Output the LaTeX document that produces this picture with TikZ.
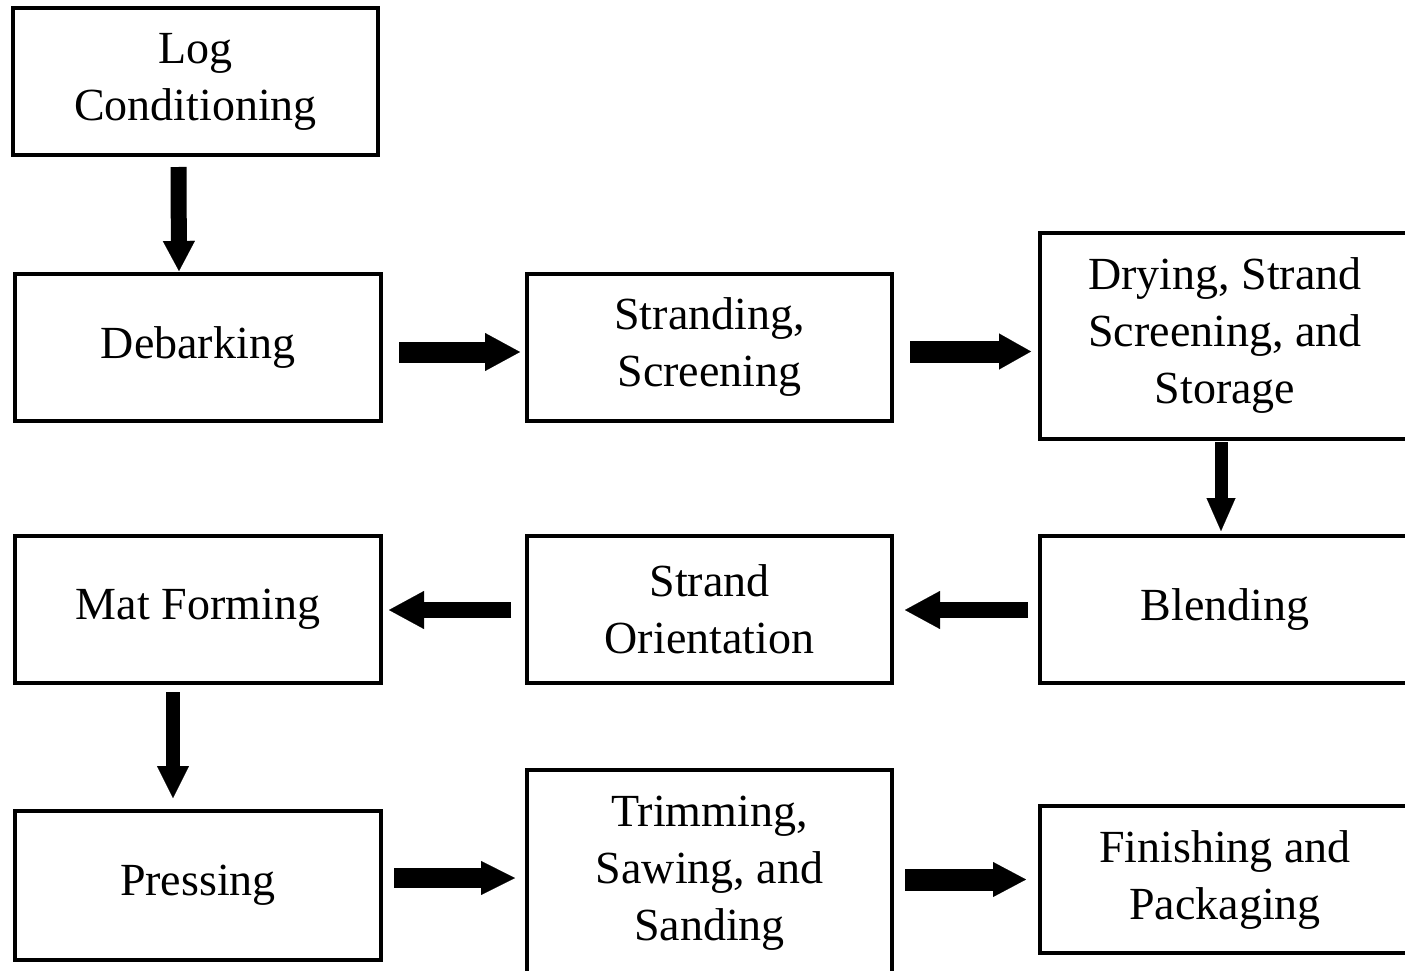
\documentclass[tikz,border=0pt]{standalone}
\usepackage{fontspec}
\setmainfont{Liberation Serif}
\usetikzlibrary{arrows.meta,calc}
\tikzset{
  box/.style={draw=black, line width=4pt, rectangle, align=center, inner sep=0pt,
    font=\fontsize{46}{57}\selectfont},
  flow/.style n args={3}{draw=black, line width=#1,
    -{Triangle[width=#2,length=#3,line width=0.1pt]}}
}
\begin{document}
\begin{tikzpicture}[x=1pt,y=-1pt]
\useasboundingbox (0,0) rectangle (1405,971);
\clip (0,0) rectangle (1405,971);
\fill[white] (0,0) rectangle (1405,971);
\node[box, minimum width=365pt, minimum height=147pt] (log) at (195.5,81.5) {Log\\Conditioning};
\node[box, minimum width=366pt, minimum height=147pt] (deb) at (198,347.5) {Debarking};
\node[box, minimum width=365pt, minimum height=147pt] (str) at (709.5,347.5) {Stranding,\\Screening};
\node[box, minimum width=370pt, minimum height=206pt] (dry) at (1225,336) {Drying, Strand\\Screening, and\\Storage};
\node[box, minimum width=366pt, minimum height=147pt] (mat) at (198,609.5) {Mat Forming};
\node[box, minimum width=365pt, minimum height=147pt] (ori) at (709.5,609.5) {Strand\\Orientation};
\node[box, minimum width=370pt, minimum height=147pt] (ble) at (1225,609.5) {Blending};
\node[box, minimum width=366pt, minimum height=149pt] (pre) at (198,885.5) {Pressing};
\node[box, minimum width=365pt, minimum height=206pt] (tri) at (709.5,873) {Trimming,\\Sawing, and\\Sanding};
\node[box, minimum width=370pt, minimum height=147pt] (fin) at (1225,879.5) {Finishing and\\Packaging};

\draw[flow={16pt}{32pt}{30pt}] ($(log.south)+(-17,10)$) -- ($(deb.north)+(-19,-1)$);
\draw[flow={21pt}{38pt}{35pt}] ($(deb.east)+(16,4.5)$) -- ($(str.west)+(-5,4.5)$);
\draw[flow={22pt}{36pt}{32pt}] ($(str.east)+(16,4)$) -- ($(dry.west |- str.east)+(-7,4)$);
\draw[flow={13pt}{29pt}{33pt}] ($(dry.south)+(-4,1)$) -- ($(ble.north)+(-4,-3)$);
\draw[flow={16pt}{38pt}{35pt}] ($(ble.west)+(-10,0.5)$) -- ($(ori.east)+(11,0.5)$);
\draw[flow={16pt}{38pt}{35pt}] ($(ori.west)+(-14,0.5)$) -- ($(mat.east)+(6,0.5)$);
\draw[flow={14pt}{32pt}{32pt}] ($(mat.south)+(-25,7)$) -- ($(pre.north)+(-25,-11)$);
\draw[flow={20pt}{34pt}{34pt}] ($(pre.east)+(11,-7.5)$) -- ($(tri.west |- pre.east)+(-10,-7.5)$);
\draw[flow={22pt}{35pt}{33pt}] ($(tri.east |- fin.west)+(11,0)$) -- ($(fin.west)+(-12,0)$);
\end{tikzpicture}
\end{document}
